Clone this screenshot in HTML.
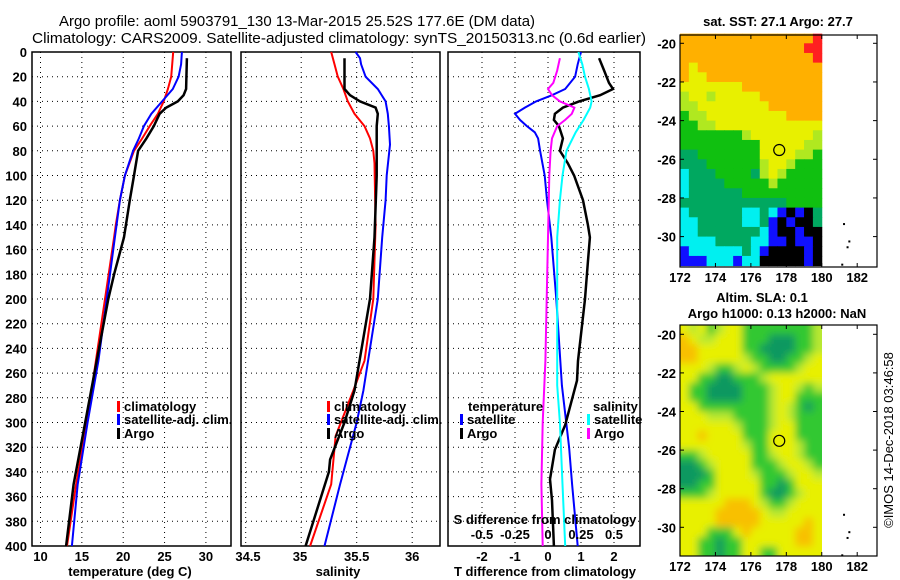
<!DOCTYPE html>
<html><head><meta charset="utf-8"><style>
html,body{margin:0;padding:0;background:#fff;}
svg{display:block;font-family:"Liberation Sans",Arial,sans-serif;}
.tk{font-size:13px;font-weight:bold;fill:#000;}
.lg{font-size:13px;font-weight:bold;fill:#000;}
</style></head><body>
<svg id="fig" width="900" height="580" viewBox="0 0 900 580" xmlns="http://www.w3.org/2000/svg">
<text x="59" y="26" font-size="15" textLength="476" lengthAdjust="spacingAndGlyphs">Argo profile: aoml 5903791_130 13-Mar-2015 25.52S 177.6E (DM data)</text>
<text x="32" y="43" font-size="15" textLength="614" lengthAdjust="spacingAndGlyphs">Climatology: CARS2009. Satellite-adjusted climatology: synTS_20150313.nc (0.6d earlier)</text>
<g id="g1"></g>
<g id="g2"></g>
<g id="g3"></g>
<g id="m1"></g>
<g id="m2"></g>
<text transform="translate(893,440) rotate(-90)" text-anchor="middle" font-size="13">©IMOS 14-Dec-2018 03:46:58</text>
<defs><filter id="blur" x="0" y="0" width="1" height="1"><feGaussianBlur stdDeviation="4"/></filter>
<clipPath id="c2"><rect x="680" y="325" width="142" height="231"/></clipPath></defs>
</svg>
<script>
// ---------- data ----------
const depthTicks=[0,20,40,60,80,100,120,140,160,180,200,220,240,260,280,300,320,340,360,380,400];
const tempTicks=[10,15,20,25,30];
const salTicks=[34.5,35,35.5,36];
const tdiffTicks=[-2,-1,0,1,2];
const sdiffTicks=[-0.5,-0.25,0,0.25,0.5];
const tClimD=[0,20,30,40,50,60,70,80,100,120,140,150,200,250,300,350,400];
const tClim=[26.05,25.8,25.4,24.9,24.2,23.2,22.3,21.3,20.2,19.6,19.1,18.9,17.8,16.7,15.6,14.3,13.2];
const tSatD=[0,10,20,30,40,50,60,70,80,100,120,150,200,250,300,350,400];
const tSat=[27.1,27.0,26.7,26.0,24.7,23.4,22.5,21.9,21.2,20.2,19.6,19.0,18.0,17.0,15.7,14.5,13.8];
const tArgoD=[5,30,35,40,45,50,60,70,80,100,120,150,180,200,250,300,350,400];
const tArgo=[27.7,27.6,27.3,26.6,25.2,24.4,23.7,22.8,21.8,21.3,20.8,20.1,18.9,18.2,16.8,15.4,14.0,13.1];
const sClimD=[0,10,20,30,40,50,60,70,80,90,140,200,250,274,311,350,400];
const sClim=[35.27,35.30,35.33,35.38,35.42,35.48,35.57,35.62,35.65,35.66,35.67,35.65,35.57,35.47,35.31,35.27,35.08];
const sSatD=[0,5,10,20,30,40,50,60,75,100,120,150,200,274,300,350,400];
const sSat=[35.49,35.53,35.54,35.58,35.69,35.76,35.78,35.79,35.80,35.77,35.76,35.73,35.69,35.56,35.50,35.35,35.21];
const sArgoD=[5,30,35,40,45,50,60,100,150,200,274,300,330,340,400];
const sArgo=[35.39,35.39,35.44,35.53,35.67,35.69,35.68,35.68,35.66,35.62,35.48,35.39,35.26,35.25,35.04];
const dTSatD=[0,10,20,30,35,40,45,50,55,60,65,70,80,100,120,150,200,270,320,350,400];
const dTSat=[1.0,0.9,0.82,0.52,0.12,-0.36,-0.7,-1.0,-0.85,-0.64,-0.4,-0.3,-0.24,-0.1,-0.03,0.1,0.25,0.42,0.64,0.73,0.9];
const dTArgoD=[5,15,25,30,35,40,45,50,55,60,70,80,90,100,120,140,150,170,200,250,266,302,322,346,363,400];
const dTArgo=[1.55,1.7,1.85,1.97,1.58,0.94,0.45,0.21,0.18,0.33,0.45,0.36,0.6,0.79,1.06,1.21,1.27,1.21,1.12,0.91,0.88,0.52,0.21,0.06,0.12,0.18];
const dSSatD=[0,10,20,30,40,45,55,65,80,100,120,150,270,300,350,400];
const dSSat=[0.23,0.26,0.28,0.31,0.33,0.32,0.27,0.21,0.14,0.11,0.09,0.07,0.07,0.09,0.11,0.13];
const dSArgoD=[5,15,25,30,35,40,45,50,55,60,70,80,100,150,250,300,350,400];
const dSArgo=[0.09,0.07,0.04,0.0,0.03,0.09,0.2,0.18,0.13,0.07,0.03,0.02,0.01,0.0,-0.02,-0.04,-0.05,-0.04];
const lonTicks=[172,174,176,178,180,182];
const latTicks=[-20,-22,-24,-26,-28,-30];
// map codes: rows of 0.5 deg from -19.5 southward, 16 cols of 0.5 deg from 172
const sstGrid=["OOOOOOOOOOOOOOOR","OOOOOOOOOOOOOORR","OOOOOOOOOOOOOOOR","OYOOOOOOOOOOOOOO","OYYOOOOOOOOOOOOO","YYYYYYYOOOOOOOOO","LYYLYYYYYOOOOOOO","LLYYYYYYYYOOOOOO","GLLYYYYYYYYYOOOO","GGLLYYYYYYYYYYYY","GGGGGGGLYYYYYYYL","GGGGGGGGGYYYYYLL","DDGGGGGGGYYYYLLG","DDDGGGGGGLYYLGGG","CDDDGGGGDLYLGGGG","CDDDDGGGGGLGGGGG","CDDDDDDGGGGGGGGG","DDDDDDDDDDDDGGGG","CDDDDDDCCDCBKBKD","CCDDDDDCCDBKBKKD","CCDDDDDDDCBKKBKK","CCCCDDDDCCBBKBBK","BCCCCCCDCBKKKKBK","BBBCCCBCCKKKKKBK"];
const slaGrid=["YLYGLYYGGGGGGGGL","OYLLYYYGGGTTTGGL","OOYYYYYGGTTTTGGL","OOYYYYYLGGTTGGLY","YYYLGGLYLGGGGLYY","YYGGTTGGGLYYYYYY","YGGTTTTGGGLYYLGL","YGGTTTTGGGLYYGGG","YYGGGGGGGGLYLGTG","YYYLLLGGGGLYLGGG","YYYYYYLGGGLYYGGG","YYOYYYYGGGYYYGGG","YYYYYYYLGGYYYLGG","GGLYYYYYGGLYYLGG","TTGLYYYYGGGLYYLG","TTTGYYYYLGGGLYYL","TTGGYYYYYGGTGYYY","GGGLYYYYYGTTGLYY","YYYYYOOOYLGGLYYY","YYYYOOOOOYLLYYYY","YYYYOOOOOYYYYYOY","YYYGGGYOYYYYYOOY","YYGGTGGYYYYYYOOY","YYGGTGGYYGGYYYYY"];
const sstColors={O:"#ffb000",R:"#ff2020",Y:"#e8f000",L:"#b0e820",G:"#10c010",D:"#00a860",C:"#00f0f0",B:"#1010ff",K:"#000000"};
const slaColors={O:"#f8c000",Y:"#e8f000",L:"#b8e830",G:"#30c830",T:"#109860"};
const sstVal=[27.1,27.7]; const slaVal=[0.1,0.13];
const argoPos=[177.6,-25.52];

// ---------- helpers ----------
const NS="http://www.w3.org/2000/svg";
function mk(parent,tag,attrs,text){const e=document.createElementNS(NS,tag);for(const k in attrs)e.setAttribute(k,attrs[k]);if(text!==undefined)e.textContent=text;parent.appendChild(e);return e;}
const Y0=52,Y1=546;
function yD(d){return Y0+(Y1-Y0)*d/400;}
function line(g,xs,ds,sx,color,w,name){
  const p=xs.map((v,i)=>(i?"L":"M")+sx(v).toFixed(1)+","+yD(ds[i]).toFixed(1)).join("");
  const e=mk(g,"path",{d:p,fill:"none",stroke:color,"stroke-width":w});
  
  
}
function panel(g,x0,x1,ticks,sx,name){
  depthTicks.forEach(d=>{ if(d>0&&d<400) mk(g,"line",{x1:x0,x2:x1,y1:yD(d),y2:yD(d),stroke:"#000","stroke-dasharray":"1,4","stroke-width":1});});
  ticks.forEach(t=>{const x=sx(t); mk(g,"line",{x1:x,x2:x,y1:Y0,y2:Y1,stroke:"#000","stroke-dasharray":"1,4","stroke-width":1});});
  const r=mk(g,"rect",{x:x0,y:Y0,width:x1-x0,height:Y1-Y0,fill:"none",stroke:"#000","stroke-width":1.5});
  
  
}
function xlabels(g,ticks,sx,y,fmt,name){
  ticks.forEach(t=>{const e=mk(g,"text",{x:sx(t),y:y,"text-anchor":"middle",class:"tk"},fmt?fmt(t):String(t));
    
    });
}
function legend(g,x,y,color,label,name){
  mk(g,"rect",{x:x,y:y-10,width:3,height:11,fill:color});
  const e=mk(g,"text",{x:x+7,y:y,class:"lg"},label);
  
  
}

// ---------- panel 1 ----------
const g1=document.getElementById("g1");
const sxT=t=>40.5+(t-10)*8.27;
panel(g1,32,231,tempTicks,sxT,"temperature-panel");
depthTicks.forEach(d=>{const e=mk(g1,"text",{x:27,y:yD(d)+5,"text-anchor":"end",class:"tk"},String(d));
  
  });
line(g1,tClim,tClimD,sxT,"#ff0000",2,"temp-climatology-line");
line(g1,tSat,tSatD,sxT,"#0000ff",2,"temp-satellite-line");
line(g1,tArgo,tArgoD,sxT,"#000000",2.5,"temp-argo-line");
xlabels(g1,tempTicks,sxT,561,null,"temp-tick-label");
mk(g1,"text",{x:130,y:576,"text-anchor":"middle",class:"tk"},"temperature (deg C)");
legend(g1,117,411,"#ff0000","climatology","legend-climatology");
legend(g1,117,424,"#0000ff","satellite-adj. clim.","legend-satellite");
legend(g1,117,438,"#000000","Argo","legend-argo");

// ---------- panel 2 ----------
const g2=document.getElementById("g2");
const sxS=s=>245.7+(s-34.5)*111;
panel(g2,241,440,salTicks,sxS,"salinity-panel");
line(g2,sClim,sClimD,sxS,"#ff0000",2,"sal-climatology-line");
line(g2,sSat,sSatD,sxS,"#0000ff",2,"sal-satellite-line");
line(g2,sArgo,sArgoD,sxS,"#000000",2.5,"sal-argo-line");
xlabels(g2,salTicks,s=>s===34.5?248:(s===35?300:sxS(s)),561,null,"salinity-tick-label");
mk(g2,"text",{x:338,y:576,"text-anchor":"middle",class:"tk"},"salinity");
legend(g2,327,411,"#ff0000","climatology","legend-climatology");
legend(g2,327,424,"#0000ff","satellite-adj. clim.","legend-satellite");
legend(g2,327,438,"#000000","Argo","legend-argo");

// ---------- panel 3 ----------
const g3=document.getElementById("g3");
const sxDT=v=>548+v*33;
const sxDS=v=>548+v*132;
panel(g3,448,640,tdiffTicks,sxDT,"difference-panel");
line(g3,dTSat,dTSatD,sxDT,"#0000ff",2,"tdiff-satellite-line");
line(g3,dTArgo,dTArgoD,sxDT,"#000000",2.5,"tdiff-argo-line");
line(g3,dSSat,dSSatD,sxDS,"#00ffff",2,"sdiff-satellite-line");
line(g3,dSArgo,dSArgoD,sxDS,"#ff00ff",2,"sdiff-argo-line");
xlabels(g3,tdiffTicks,sxDT,561,null,"tdiff-tick-label");
mk(g3,"text",{x:545,y:576,"text-anchor":"middle",class:"tk"},"T difference from climatology");
mk(g3,"text",{x:545,y:524,"text-anchor":"middle",class:"tk"},"S difference from climatology");
xlabels(g3,sdiffTicks,sxDS,539,null,"sdiff-tick-label");
mk(g3,"text",{x:468,y:411,class:"lg"},"temperature");
legend(g3,460,424,"#0000ff","satellite","legend-t-satellite");
legend(g3,460,438,"#000000","Argo","legend-t-argo");
mk(g3,"text",{x:593,y:411,class:"lg"},"salinity");
legend(g3,587,424,"#00ffff","satellite","legend-s-satellite");
legend(g3,587,438,"#ff00ff","Argo","legend-s-argo");

// ---------- maps ----------
function map(g,top,bottom,latY,grid,colors,blur,name,titles){
  const lx=lon=>680+(lon-172)*17.72;
  const ly=lat=>latY(lat);
  const cg=mk(g,"g",blur?{filter:"url(#blur)","clip-path":"url(#c2)"}:{});
  const rows=grid.length, cols=grid[0].length;
  for(let r=0;r<rows;r++)for(let c=0;c<cols;c++){
    const la0=-19.5-r*0.5, la1=la0-0.5;
    const pad=blur?8:0;
    const x=lx(172+c*0.5)-(c===0?pad:0);
    const y=ly(la0)-(r===0?pad:0);
    const w=lx(172.5)-lx(172)+0.5+(c===0||c===cols-1?pad:0);
    const h=ly(la1)-ly(la0)+0.5+(r===0||r===rows-1?pad:0);
    const cell=mk(cg,"rect",{x:x,y:y,width:w,height:h,fill:colors[grid[r][c]]});
    
    
  }
  mk(g,"circle",{cx:lx(argoPos[0]),cy:ly(argoPos[1]),r:5.5,fill:"none",stroke:"#000","stroke-width":1.2});
  [[181.2,-29.3],[181.5,-30.2],[181.4,-30.5],[181.1,-31.4]].forEach(p=>mk(g,"rect",{x:lx(p[0]),y:ly(p[1]),width:2,height:2,fill:"#000"}));
  const fr=mk(g,"rect",{x:680,y:top,width:197,height:bottom-top,fill:"none",stroke:"#000","stroke-width":1.2});
  
  
  latTicks.forEach(l=>{const y=ly(l);mk(g,"line",{x1:680,x2:684,y1:y,y2:y,stroke:"#000"});mk(g,"line",{x1:873,x2:877,y1:y,y2:y,stroke:"#000"});
    const t=mk(g,"text",{x:676,y:y+5,"text-anchor":"end",class:"tk"},String(l));
    
    });
  lonTicks.forEach(l=>{const x=lx(l);mk(g,"line",{x1:x,x2:x,y1:top,y2:top+4,stroke:"#000"});mk(g,"line",{x1:x,x2:x,y1:bottom,y2:bottom-4,stroke:"#000"});
    const t=mk(g,"text",{x:x,y:bottom+15,"text-anchor":"middle",class:"tk"},String(l));
    
    });
  titles.forEach(tt=>{const t=mk(g,"text",{x:tt[1],y:tt[2],"text-anchor":"middle",class:"tk","font-size":12},tt[0]);
    
    });
}
map(document.getElementById("m1"),35,267,lat=>43.3+(-20-lat)*19.33,sstGrid,sstColors,false,"sst-map",
  [["sat. SST: "+sstVal[0]+" Argo: "+sstVal[1],778,26]]);
map(document.getElementById("m2"),325,556,lat=>334.3+(-20-lat)*19.3,slaGrid,slaColors,true,"sla-map",
  [["Altim. SLA: "+slaVal[0],762,302],["Argo h1000: "+slaVal[1]+" h2000: NaN",777,318]]);
</script>
</body></html>
